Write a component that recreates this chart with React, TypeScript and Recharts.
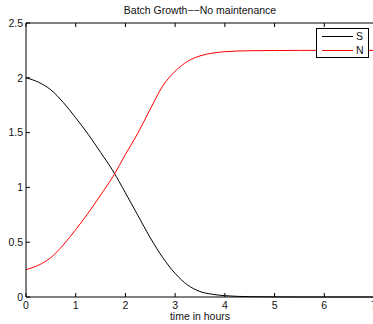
import React from "react";
import { LineChart, Line, XAxis, YAxis, Legend } from "recharts";

const hours = [0, 0.25, 0.5, 0.75, 1, 1.25, 1.5, 1.75, 2, 2.25, 2.5, 2.75, 3, 3.25, 3.5, 3.75, 4, 4.5, 5, 5.5, 6, 6.5, 7];
const substrate = [2.0, 1.96, 1.89, 1.775, 1.635, 1.485, 1.32, 1.15, 0.95, 0.745, 0.54, 0.36, 0.215, 0.11, 0.05, 0.025, 0.012, 0.003, 0.001, 0, 0, 0, 0];
const biomass = [0.25, 0.29, 0.36, 0.475, 0.615, 0.765, 0.93, 1.1, 1.3, 1.495, 1.715, 1.925, 2.06, 2.15, 2.2, 2.225, 2.238, 2.247, 2.249, 2.25, 2.25, 2.25, 2.25];
const xTicks = [0, 1, 2, 3, 4, 5, 6, 7];
const yTicks = [0, 0.5, 1, 1.5, 2, 2.5];
const series = [
  { key: "S", color: "#000000" },
  { key: "N", color: "#ff0000" },
];

const data = hours.map((t, i) => ({ t, S: substrate[i], N: biomass[i] }));

const font = '"Liberation Sans", Arial, sans-serif';
const tickStyle = { fill: "#111", fontSize: 10.5, fontFamily: font };
const noTick = () => <g />;

function LegendBox() {
  return (
    <div
      style={{
        width: 53,
        height: 30,
        border: "1px solid #000",
        background: "#fff",
        boxSizing: "border-box",
        fontFamily: font,
        fontSize: 10.5,
        color: "#111",
        padding: "0 0 0 5px",
      }}
    >
      {series.map((s) => (
        <div key={s.key} style={{ display: "flex", alignItems: "center", height: 14 }}>
          <span style={{ width: 31, height: 0, borderTop: `1px solid ${s.color}`, marginRight: 3 }} />
          <span>{s.key}</span>
        </div>
      ))}
    </div>
  );
}

export default function App() {
  return (
    <div style={{ position: "absolute", left: 0, top: 0, width: 373, height: 324, overflow: "hidden", background: "#fff" }}>
      <div style={{ position: "absolute", top: 4, left: 0, width: 400, textAlign: "center", fontFamily: font, fontSize: 10.5, color: "#111" }}>
        Batch Growth−−No maintenance
      </div>
      <div style={{ position: "absolute", top: 310, left: 0, width: 400, textAlign: "center", fontFamily: font, fontSize: 10.5, color: "#111" }}>
        time in hours
      </div>
      <LineChart width={376} height={324} data={data} margin={{ top: 22, right: 1, left: 0, bottom: 0 }}>
        <XAxis
          xAxisId="b"
          dataKey="t"
          type="number"
          domain={[0, 7]}
          ticks={xTicks}
          height={27}
          tickSize={-4}
          tickMargin={9}
          tick={tickStyle}
          stroke="#000"
          interval={0}
        />
        <XAxis
          xAxisId="top"
          orientation="top"
          dataKey="t"
          type="number"
          domain={[0, 7]}
          ticks={xTicks}
          height={1}
          tickSize={-4}
          tick={noTick}
          stroke="#000"
          interval={0}
        />
        <YAxis
          yAxisId="l"
          domain={[0, 2.5]}
          ticks={yTicks}
          width={26}
          tickSize={-4}
          tickMargin={7}
          tick={tickStyle}
          stroke="#000"
          interval={0}
        />
        <YAxis
          yAxisId="r"
          orientation="right"
          domain={[0, 2.5]}
          ticks={yTicks}
          width={1}
          tickSize={-4}
          tick={noTick}
          stroke="#000"
          interval={0}
        />
        <Legend
          layout="vertical"
          align="center"
          verticalAlign="middle"
          content={<LegendBox />}
          wrapperStyle={{ top: 28, left: 316, width: 53 }}
        />
        {series.map((s) => (
          <Line
            key={s.key}
            xAxisId="b"
            yAxisId="l"
            type="monotone"
            dataKey={s.key}
            name={s.key}
            stroke={s.color}
            strokeWidth={1}
            dot={false}
            isAnimationActive={false}
          />
        ))}
      </LineChart>
    </div>
  );
}
